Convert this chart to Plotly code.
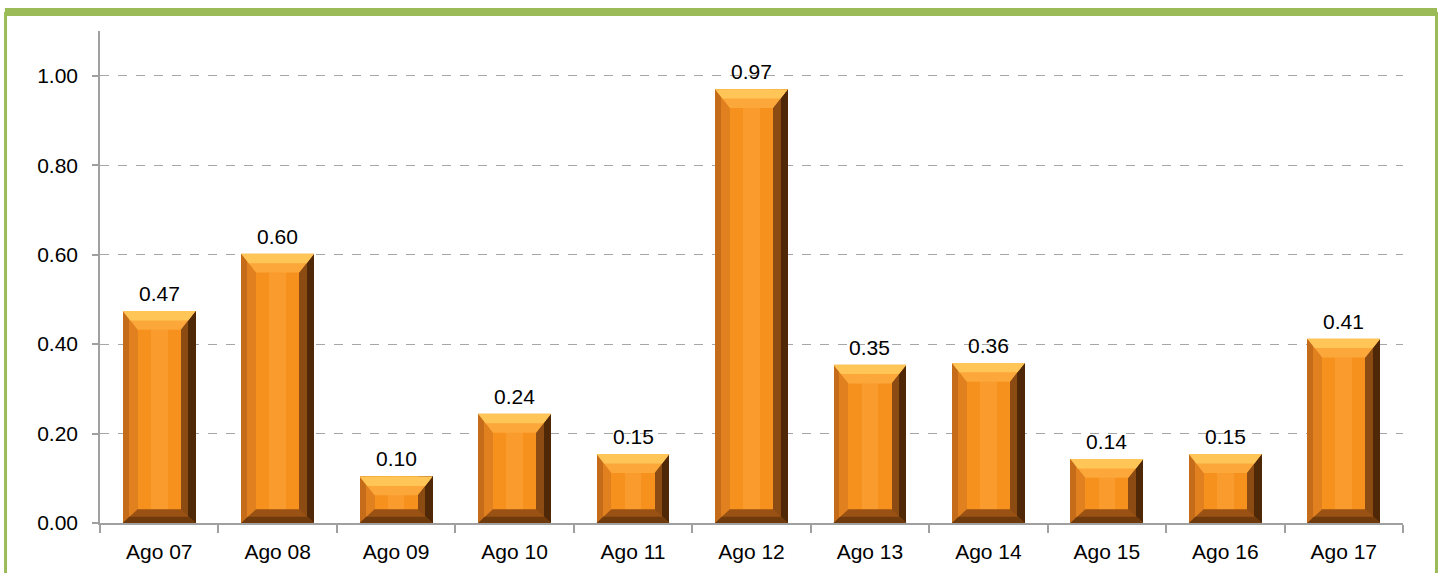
import plotly.graph_objects as go

categories = ["Ago 07", "Ago 08", "Ago 09", "Ago 10", "Ago 11", "Ago 12",
              "Ago 13", "Ago 14", "Ago 15", "Ago 16", "Ago 17"]
values = [0.474, 0.602, 0.104, 0.244, 0.154, 0.970, 0.354, 0.358, 0.143, 0.154, 0.412]
y_ticks = [0.0, 0.2, 0.4, 0.6, 0.8, 1.0]

idx = list(range(len(categories)))

# bar geometry (category units / value units)
W = 0.615     # bar width
BX = 0.125    # side bevel width
BT = 0.042    # top bevel height
BB = 0.031    # bottom bevel height

FONT = "Liberation Sans, Arial, sans-serif"
FS = 21

fig = go.Figure()

def bar(offset, width, color):
    fig.add_trace(go.Bar(
        x=idx, y=values, offset=offset, width=width,
        marker=dict(color=color, line=dict(width=0)),
        showlegend=False, hoverinfo="skip"))

# side bevels (outer -> inner)
bar(-W / 2, BX * 0.4, "#C46C19")
bar(-W / 2 + BX * 0.4, BX * 0.6, "#E0801F")
bar(W / 2 - BX, BX * 0.5, "#8C4B12")
bar(W / 2 - BX * 0.5, BX * 0.5, "#4E2807")
# core
bar(-W / 2 + BX, W - 2 * BX, "#F6911E")
bar(-0.07, 0.14, "#FA9B2E")

# top and bottom bevel trapezoids
def trapezoids(top, frac):
    xs, ys = [], []
    for i, v in zip(idx, values):
        l, r = i - W / 2, i + W / 2
        if top:
            pts = [(l, v), (r, v), (r - BX * frac, v - BT * frac),
                   (l + BX * frac, v - BT * frac), (l, v)]
        else:
            pts = [(l, 0), (r, 0), (r - BX * frac, BB * frac),
                   (l + BX * frac, BB * frac), (l, 0)]
        for px, py in pts:
            xs.append(px)
            ys.append(py)
        xs.append(None)
        ys.append(None)
    return xs, ys

def poly(top, frac, color):
    px, py = trapezoids(top, frac)
    fig.add_trace(go.Scatter(x=px, y=py, mode="lines", fill="toself",
                             fillcolor=color, line=dict(width=0, color=color),
                             showlegend=False, hoverinfo="skip"))

poly(True, 1.0, "#FBA73A")
poly(True, 0.5, "#FFC556")
poly(False, 1.0, "#9A5214")
poly(False, 0.45, "#6F3A0C")

# value labels
for i, v in zip(idx, values):
    fig.add_annotation(x=i, y=v, text=f"{v:.2f}", showarrow=False,
                       xanchor="center", yanchor="bottom", yshift=4,
                       font=dict(family=FONT, size=FS, color="#000000"))

# green frame
GREEN = "#9BBB59"
for x0, y0, x1, y1, w in [
    (-0.0730, 1.0386, 1.0261, 1.0386, 8),
    (-0.0725, 1.0386, -0.0725, -0.2, 3),
    (1.0257, 1.0386, 1.0257, -0.2, 3),
]:
    fig.add_shape(type="line", xref="paper", yref="paper",
                  x0=x0, y0=y0, x1=x1, y1=y1,
                  line=dict(color=GREEN, width=w), layer="above")

fig.update_layout(
    width=1443, height=573,
    margin=dict(l=100, r=40, t=31, b=50, autoexpand=False),
    paper_bgcolor="white", plot_bgcolor="white",
    barmode="overlay", bargap=0,
    font=dict(family=FONT, size=FS, color="#000000"),
)
fig.update_xaxes(
    range=[-0.5, len(categories) - 0.5],
    tickvals=idx, ticktext=categories, ticks="",
    ticklabelstandoff=9,
    showline=True, linecolor="#A0A0A0", linewidth=1.5,
    showgrid=False, zeroline=False,
    tickfont=dict(family=FONT, size=FS, color="#000000"),
    minor=dict(tickvals=[i - 0.5 for i in idx] + [len(categories) - 0.5],
               ticks="outside", ticklen=8, tickcolor="#A0A0A0", tickwidth=1.5,
               showgrid=False),
)
fig.update_yaxes(
    range=[0, 1.1], tickvals=y_ticks, tickformat=".2f",
    ticks="outside", ticklen=6, tickcolor="#A0A0A0", tickwidth=1.5,
    ticklabelstandoff=10,
    showline=True, linecolor="#A0A0A0", linewidth=1.5,
    showgrid=True, gridcolor="#A6A6A6", griddash="dash", gridwidth=1,
    zeroline=False,
    tickfont=dict(family=FONT, size=FS, color="#000000"),
)

fig.write_html("out.html",
               config={"displayModeBar": False},
               post_script="document.body.style.margin='0';document.body.style.overflow='hidden';")
